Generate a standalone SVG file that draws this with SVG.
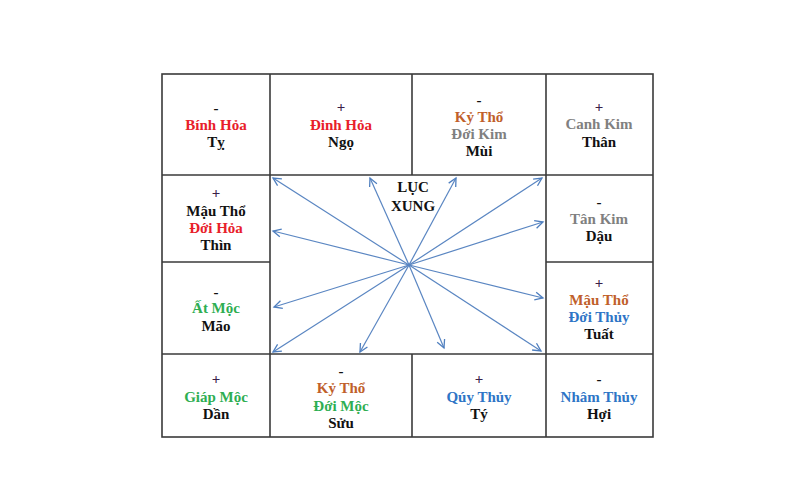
<svg xmlns="http://www.w3.org/2000/svg" width="800" height="500" viewBox="0 0 800 500">
<defs>
<marker id="ah" markerUnits="userSpaceOnUse" markerWidth="12" markerHeight="12" refX="9" refY="5" orient="auto">
<path d="M1,1 L9,5 L1,9" fill="none" stroke="#4f7fbf" stroke-width="1.3"/>
</marker>
</defs>
<style>
text{font-family:"Liberation Serif","Times New Roman",serif;font-weight:bold;font-size:15px;text-anchor:middle;fill:#111}
.r{fill:#e8202a}.b{fill:#2e75c6}.g{fill:#2eae52}.o{fill:#c0602a}.y{fill:#808080}.p{fill:#3a2048}
.cell{fill:#fff;stroke:#3a3a3a;stroke-width:1.6}
.ar{stroke:#5a86c2;stroke-width:1.2;fill:none;marker-end:url(#ah)}
</style>
<rect width="800" height="500" fill="#fff"/>
<g id="grid">
<rect class="cell" x="162" y="74" width="491" height="363"/>
<line class="cell" x1="162" y1="175" x2="653" y2="175"/>
<line class="cell" x1="162" y1="354" x2="653" y2="354"/>
<line class="cell" x1="162" y1="262" x2="270" y2="262"/>
<line class="cell" x1="546" y1="262" x2="653" y2="262"/>
<line class="cell" x1="270" y1="74" x2="270" y2="437"/>
<line class="cell" x1="546" y1="74" x2="546" y2="437"/>
<line class="cell" x1="412" y1="74" x2="412" y2="175"/>
<line class="cell" x1="412" y1="354" x2="412" y2="437"/>
</g>
<g id="connectors">
<line class="ar" x1="409" y1="265" x2="273" y2="178"/>
<line class="ar" x1="409" y1="265" x2="370" y2="178"/>
<line class="ar" x1="409" y1="265" x2="456" y2="178"/>
<line class="ar" x1="409" y1="265" x2="542" y2="178"/>
<line class="ar" x1="409" y1="265" x2="273" y2="231"/>
<line class="ar" x1="409" y1="265" x2="543" y2="222"/>
<line class="ar" x1="409" y1="265" x2="274" y2="307"/>
<line class="ar" x1="409" y1="265" x2="543" y2="298"/>
<line class="ar" x1="409" y1="265" x2="273" y2="352"/>
<line class="ar" x1="409" y1="265" x2="360" y2="352"/>
<line class="ar" x1="409" y1="265" x2="444" y2="348"/>
<line class="ar" x1="409" y1="265" x2="541" y2="351"/>
</g>
<g id="center-label">
<text x="413" y="192">LỤC</text>
<text x="413" y="211">XUNG</text>
</g>
<g id="ty">
<text x="216" y="113">-</text>
<text class="r" x="216" y="130">Bính Hỏa</text>
<text x="216" y="147">Tỵ</text>
</g>
<g id="ngo">
<text class="p" x="341" y="112">+</text>
<text class="r" x="341" y="130">Đinh Hỏa</text>
<text x="341" y="147">Ngọ</text>
</g>
<g id="mui">
<text x="479" y="105">-</text>
<text class="o" x="479" y="122">Kỷ Thổ</text>
<text class="y" x="479" y="139">Đới Kim</text>
<text x="479" y="156">Mùi</text>
</g>
<g id="than">
<text class="p" x="599" y="112">+</text>
<text class="y" x="599" y="129">Canh Kim</text>
<text x="599" y="147">Thân</text>
</g>
<g id="thin">
<text class="p" x="216" y="198">+</text>
<text x="216" y="216">Mậu Thổ</text>
<text class="r" x="216" y="233">Đới Hỏa</text>
<text x="216" y="250">Thìn</text>
</g>
<g id="dau">
<text x="599" y="207">-</text>
<text class="y" x="599" y="224">Tân Kim</text>
<text x="599" y="241">Dậu</text>
</g>
<g id="mao">
<text x="216" y="297">-</text>
<text class="g" x="216" y="313">Ất Mộc</text>
<text x="216" y="331">Mão</text>
</g>
<g id="tuat">
<text class="p" x="599" y="288">+</text>
<text class="o" x="599" y="305">Mậu Thổ</text>
<text class="b" x="599" y="322">Đới Thủy</text>
<text x="599" y="339">Tuất</text>
</g>
<g id="dan">
<text class="p" x="216" y="384">+</text>
<text class="g" x="216" y="402">Giáp Mộc</text>
<text x="216" y="419">Dần</text>
</g>
<g id="suu">
<text x="341" y="376">-</text>
<text class="o" x="341" y="393">Kỷ Thổ</text>
<text class="g" x="341" y="411">Đới Mộc</text>
<text x="341" y="428">Sửu</text>
</g>
<g id="ty2">
<text class="p" x="479" y="384">+</text>
<text class="b" x="479" y="402">Qúy Thủy</text>
<text x="479" y="419">Tý</text>
</g>
<g id="hoi">
<text x="599" y="384">-</text>
<text class="b" x="599" y="402">Nhâm Thủy</text>
<text x="599" y="419">Hợi</text>
</g>
</svg>
